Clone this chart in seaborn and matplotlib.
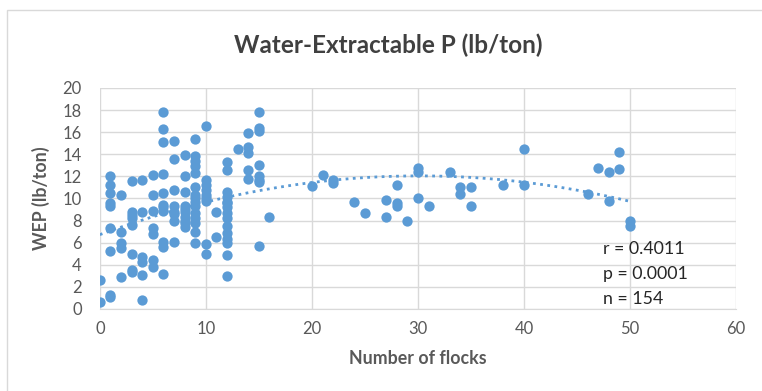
import numpy as np
import pandas as pd
import matplotlib.pyplot as plt
import seaborn as sns
from matplotlib.patches import Rectangle

# number of flocks and water-extractable P
flocks = [0, 0,
          1, 1, 1, 1, 1, 1, 1, 1, 1,
          2, 2, 2, 2, 2,
          3, 3, 3, 3, 3, 3, 3, 3,
          4, 4, 4, 4, 4, 4,
          5, 5, 5, 5, 5, 5, 5,
          6, 6, 6, 6, 6, 6, 6, 6, 6, 6, 6,
          7, 7, 7, 7, 7, 7, 7, 7,
          8, 8, 8, 8, 8, 8, 8, 8, 8, 8,
          9, 9, 9, 9, 9, 9, 9, 9, 9, 9, 9, 9, 9, 9, 9,
          10, 10, 10, 10, 10, 10, 10, 10, 10,
          11, 11,
          12, 12, 12, 12, 12, 12, 12, 12, 12, 12, 12, 12, 12, 12, 12,
          13,
          14, 14, 14, 14, 14,
          15, 15, 15, 15, 15, 15, 15, 15,
          16,
          20, 21, 22, 22, 24, 25, 27, 27, 28, 28, 28, 29, 30, 30, 30, 31,
          33, 34, 34, 35, 35, 38, 40, 40, 46, 47, 48, 48, 49, 49, 50, 50]

wep = [2.6, 0.6,
       12.0, 11.2, 10.5, 9.6, 9.3, 7.3, 5.2, 1.3, 1.1,
       10.3, 7.0, 6.0, 5.5, 2.9,
       11.6, 8.8, 8.5, 8.2, 7.6, 5.0, 3.5, 3.3,
       11.7, 8.8, 4.7, 4.2, 3.1, 0.8,
       12.1, 10.3, 8.9, 7.3, 6.8, 4.4, 3.8,
       17.8, 16.3, 15.1, 12.2, 10.5, 9.4, 9.2, 8.9, 6.1, 5.6, 3.2,
       15.2, 13.6, 10.8, 9.3, 8.8, 8.6, 8.0, 6.1,
       13.9, 12.0, 10.6, 9.3, 9.0, 8.8, 8.3, 8.0, 7.8, 7.4,
       15.4, 13.8, 13.4, 12.9, 12.3, 11.0, 10.3, 10.0, 9.7, 9.3, 8.7, 8.2, 7.8, 7.0, 6.0,
       16.6, 11.7, 11.2, 10.8, 10.3, 10.0, 9.8, 5.9, 5.0,
       8.8, 6.5,
       13.3, 12.6, 10.6, 10.1, 9.7, 9.6, 9.2, 8.7, 8.2, 7.5, 6.9, 6.3, 6.0, 4.9, 3.0,
       14.5,
       15.9, 14.7, 14.1, 12.6, 11.8,
       17.8, 16.4, 16.1, 13.0, 12.0, 11.7, 11.5, 5.7,
       8.3,
       11.1, 12.1, 11.7, 11.4, 9.7, 8.7, 9.9, 8.3, 11.2, 9.6, 9.3, 8.0, 12.8, 12.4, 10.0, 9.3,
       12.4, 11.0, 10.4, 11.0, 9.3, 11.2, 14.5, 11.2, 10.4, 12.8, 12.4, 9.8, 14.2, 12.7, 8.0, 7.5]

stats_text = ["r = 0.4011", "p = 0.0001", "n = 154"]

df = pd.DataFrame({"flocks": flocks, "wep": wep})

sns.set_style("white")
plt.rcParams['font.family'] = ['Lato', 'DejaVu Sans']

blue = "#5B9BD5"
grid = "#D9D9D9"
txt = "#595959"

fig = plt.figure(figsize=(7.62, 3.91), dpi=100)
ax = fig.add_axes([0.131, 0.210, 0.835, 0.565])

sns.scatterplot(data=df, x="flocks", y="wep", ax=ax, color=blue, s=55,
                edgecolor=blue, linewidth=0, zorder=3)

# 2nd order polynomial trendline (like Excel)
coef = np.polyfit(df["flocks"], df["wep"], 2)
xs = np.linspace(0, 50, 200)
ax.plot(xs, np.polyval(coef, xs), color=blue, lw=2, linestyle=(0, (1, 1.6)), zorder=4)

ax.set_xlim(0, 60)
ax.set_ylim(0, 20)
ax.set_xticks(range(0, 61, 10))
ax.set_yticks(range(0, 21, 2))
ax.grid(True, color=grid, lw=1)
ax.set_axisbelow(True)
for s in ["top", "right", "left"]:
    ax.spines[s].set_visible(False)
ax.spines["bottom"].set_color(grid)
ax.tick_params(axis="both", colors=txt, labelsize=12, length=0)
ax.tick_params(axis="x", pad=9)
ax.tick_params(axis="y", pad=13)

ax.set_xlabel("Number of flocks", fontsize=12.8, fontweight="bold", color=txt, labelpad=9)
ax.set_ylabel("WEP (lb/ton)", fontsize=12.8, fontweight="bold", color=txt, labelpad=9)
fig.suptitle("Water-Extractable P (lb/ton)", x=0.51, y=0.915, fontsize=17.5,
             fontweight="bold", color="#404040")

for i, t in enumerate(stats_text):
    fig.text(0.791, 0.362 - i * 0.063, t, fontsize=12.8, color="#262626",
             ha="left", va="center")

fig.patches.append(Rectangle((0.009, -0.01), 1.0, 0.985, transform=fig.transFigure,
                             fill=False, edgecolor=grid, lw=1))

fig.savefig("out.png", dpi=100)
